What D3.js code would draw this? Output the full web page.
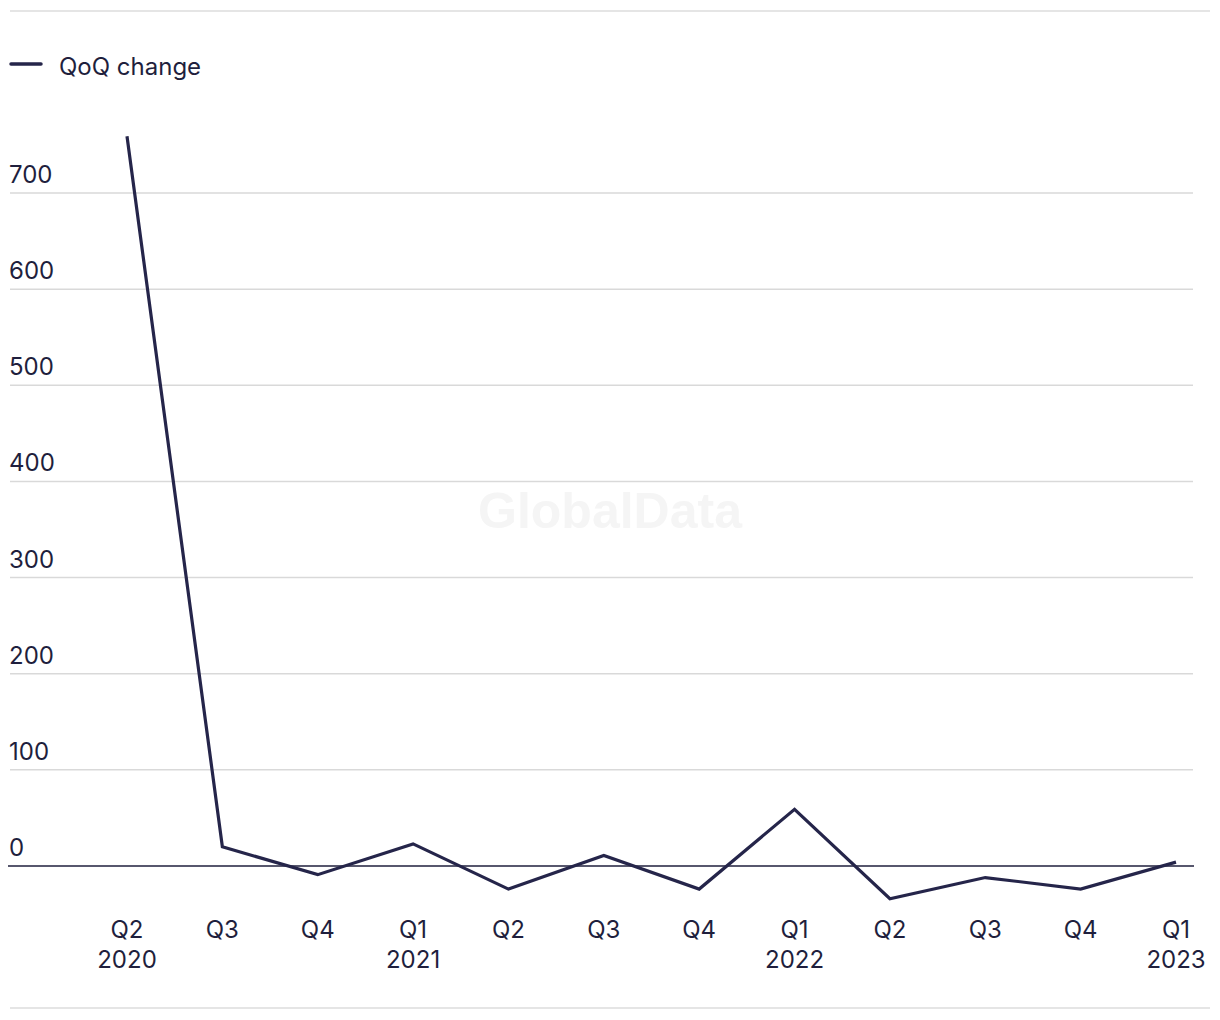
<!DOCTYPE html>
<html><head><meta charset="utf-8">
<script src="https://cdn.jsdelivr.net/npm/d3@7"></script>
<style>
html,body{margin:0;padding:0;background:#fff;}
svg{display:block;font-family:Inter,"Liberation Sans",sans-serif;}
</style></head>
<body><svg id="c" width="1220" height="1020"></svg>
<script>
const quarters = ["Q2","Q3","Q4","Q1","Q2","Q3","Q4","Q1","Q2","Q3","Q4","Q1"];
const years    = ["2020","","","2021","","","","2022","","","","2023"];
const qoqChange = [759, 20, -9, 23, -24, 11, -24, 59, -34, -12, -24, 4];
const yTicks = [0,100,200,300,400,500,600,700];
const seriesName = "QoQ change";

const svg = d3.select("#c");
const ink = "#1f1f3d", lineCol = "#25254a";
const fs = 24;
const ids = quarters.map((q,i)=>i);
const x = d3.scalePoint().domain(ids).range([127,1176]);
const y = d3.scaleLinear().domain([0,700]).range([866,193]);

// frame rules
svg.append("line").attr("x1",10).attr("x2",1210).attr("y1",11).attr("y2",11).attr("stroke","#dcdcdc").attr("stroke-width",1.5);
svg.append("line").attr("x1",10).attr("x2",1210).attr("y1",1008).attr("y2",1008).attr("stroke","#dcdcdc").attr("stroke-width",1.5);

// watermark
svg.append("text").attr("x",610).attr("y",528).attr("text-anchor","middle")
  .attr("font-size",50).attr("font-weight",700).attr("fill","#f5f5f5").attr("font-family","'Liberation Sans',Arial,sans-serif").text("GlobalData");

// grid
const g = svg.append("g");
g.selectAll("line.grid").data(yTicks.filter(d=>d!==0)).join("line")
  .attr("x1",10).attr("x2",1193).attr("y1",d=>y(d)).attr("y2",d=>y(d))
  .attr("stroke","#d9d9d9").attr("stroke-width",1.5);
g.selectAll("text.yl").data(yTicks).join("text")
  .attr("x",9).attr("y",d=>y(d)-10).attr("font-size",fs).attr("fill",ink).text(d=>d);

// zero line
svg.append("line").attr("x1",8).attr("x2",1194).attr("y1",y(0)).attr("y2",y(0)).attr("stroke",ink).attr("stroke-width",1.6);

// x labels
const xl = svg.append("g");
xl.selectAll("text.q").data(ids).join("text").attr("x",d=>x(d)).attr("y",938)
  .attr("text-anchor","middle").attr("font-size",fs).attr("fill",ink).text(d=>quarters[d]);
xl.selectAll("text.yr").data(ids.filter(i=>years[i])).join("text").attr("x",d=>x(d)).attr("y",968)
  .attr("text-anchor","middle").attr("font-size",fs).attr("fill",ink).text(d=>years[d]);

// line
const line = d3.line().x((d,i)=>x(i)).y(d=>y(d));
svg.append("path").datum(qoqChange).attr("d",line).attr("fill","none")
  .attr("stroke",lineCol).attr("stroke-width",3.2).attr("stroke-linejoin","miter");

// legend
svg.append("line").attr("x1",11).attr("x2",41).attr("y1",64).attr("y2",64).attr("stroke",lineCol).attr("stroke-width",3.5).attr("stroke-linecap","round");
svg.append("text").attr("x",59).attr("y",75).attr("font-size",fs).attr("fill",ink).text(seriesName);
</script></body></html>
